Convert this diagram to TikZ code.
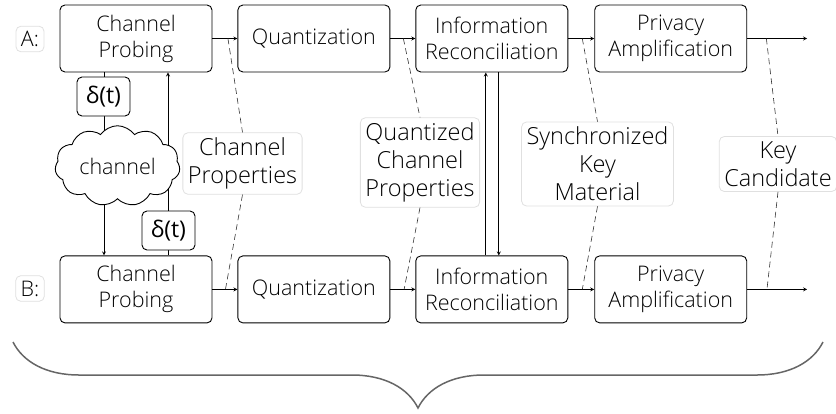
\documentclass[tikz,border=0pt]{standalone}
\usepackage{fontspec}
\setmainfont{Open Sans}[UprightFont={* Light}, BoldFont={*}]
\usepackage{tikz}
\usetikzlibrary{shapes.symbols, arrows, positioning, decorations.pathreplacing}

\begin{document}
\begin{tikzpicture}[x=1pt, y=1pt, font=\fontsize{21.5}{26}\selectfont]
\tikzstyle{block} = [rectangle, draw, line width=0.9pt, rounded corners=5pt, minimum width=152pt, minimum height=67pt, align=center, inner sep=2pt]
\tikzstyle{tag} = [rectangle, draw=black!12, line width=0.8pt, rounded corners=5pt, align=center, inner sep=5pt, fill=white, font=\fontsize{23.5}{28}\selectfont]
\tikzstyle{delay} = [rectangle, draw, line width=0.9pt, rounded corners=5pt, minimum width=53pt, minimum height=39pt, inner sep=2pt, fill=white, font=\fontsize{23}{26}\selectfont\bfseries]
\tikzstyle{line} = [draw, line width=0.8pt, -stealth]
\tikzstyle{hint} = [draw, line width=0.6pt, dash pattern=on 6pt off 4pt, black!80]

\useasboundingbox (0,0) rectangle (836,-413);

\node [tag, font=\fontsize{21.5}{26}\selectfont] (sideA) at (30,-39) {A:};
\node [tag, font=\fontsize{21.5}{26}\selectfont] (sideB) at (30,-288.5) {B:};

\node [block] (probeA) at (136,-38.5) {Channel\\Probing};
\node [block, right=25pt of probeA] (quantA) {Quantization};
\node [block, right=25pt of quantA] (reconA) {Information\\Reconciliation};
\node [block, right=26pt of reconA] (privA) {Privacy\\Amplification};
\coordinate [right=60pt of privA.east] (outA);

\node [block, below=183pt of probeA] (probeB) {Channel\\Probing};
\node [block, right=25pt of probeB] (quantB) {Quantization};
\node [block, right=25pt of quantB] (reconB) {Information\\Reconciliation};
\node [block, right=26pt of reconB] (privB) {Privacy\\Amplification};
\coordinate [right=60pt of privB.east] (outB);

\draw [line] (probeA) -- coordinate[pos=0.62] (tapA1) (quantA);
\draw [line] (quantA) -- coordinate[pos=0.52] (tapA2) (reconA);
\draw [line] (reconA) -- coordinate[pos=0.54] (tapA3) (privA);
\draw [line] (privA) -- coordinate[pos=0.32] (tapA4) (outA);
\draw [line] (probeB) -- coordinate[pos=0.52] (tapB1) (quantB);
\draw [line] (quantB) -- coordinate[pos=0.55] (tapB2) (reconB);
\draw [line] (reconB) -- coordinate[pos=0.54] (tapB3) (privB);
\draw [line] (privB) -- coordinate[pos=0.33] (tapB4) (outB);

\draw [line] ([xshift=-32pt]probeA.south) -- ([xshift=-32pt]probeB.north);
\draw [line] ([xshift=32pt]probeB.north) -- ([xshift=32pt]probeA.south);
\draw [line] ([xshift=-6pt]reconB.north) -- ([xshift=-6pt]reconA.south);
\draw [line] ([xshift=7pt]reconA.south) -- ([xshift=7pt]reconB.north);

\node [cloud, draw, line width=0.9pt, fill=white, cloud puffs=11, cloud puff arc=110, aspect=1.6, minimum width=125pt, minimum height=75pt, inner sep=0pt] (chan) at (117.5,-166) {channel};
\node [delay] (delayA) at (103.5,-96.5) {δ(t)};
\node [delay] (delayB) at (168.5,-230.5) {δ(t)};

\node [tag] (chprop) at (242.5,-163.5) {Channel\\Properties};
\node [tag] (qprop) at (420,-162.5) {Quantized\\Channel\\Properties};
\node [tag] (keymat) at (597.5,-164) {Synchronized\\Key\\Material};
\node [tag] (keycand) at (778,-164) {Key\\Candidate};

\draw [hint] (tapA1) -- (chprop.north);
\draw [hint] (chprop.south) -- (tapB1);
\draw [hint] (tapA2) -- (qprop.north);
\draw [hint] (qprop.south) -- (tapB2);
\draw [hint] (tapA3) -- (keymat.north);
\draw [hint] (keymat.south) -- (tapB3);
\draw [hint] (tapA4) -- (keycand.north);
\draw [hint] (keycand.south) -- (tapB4);

\draw [decorate, decoration={brace, amplitude=66pt, aspect=0.5}, line width=1.5pt, black!60] (823,-342) -- (13,-342);

\end{tikzpicture}
\end{document}
